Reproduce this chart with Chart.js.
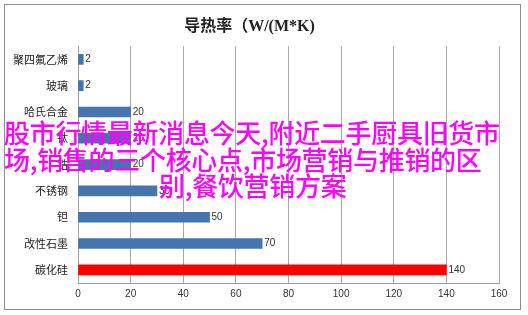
<!DOCTYPE html>
<html lang="zh">
<head>
    <meta charset="UTF-8">
    <title>导热率</title>
    <script src="https://cdn.jsdelivr.net/npm/chart.js"></script>
    <style>
        html, body {
            margin: 0;
            padding: 0;
            background: #fff;
        }

        .wrap {
            position: relative;
            width: 528px;
            height: 315px;
            overflow: hidden;
        }

        .frame {
            position: absolute;
            left: 4px;
            top: 4px;
            width: 515px;
            height: 304px;
            border: 1px solid #8e8e8e;
        }

        canvas {
            position: absolute;
            left: 0;
            top: 0;
        }

        .overlay {
            position: absolute;
            color: #ff00ff;
            font-family: "Noto Sans CJK SC", sans-serif;
            font-weight: 500;
            font-size: 26px;
            line-height: 26px;
            white-space: nowrap;
            letter-spacing: -0.3px;
        }
    </style>
</head>
<body>
    <div class="wrap">
        <div class="frame"></div>
        <canvas id="conductivity" width="528" height="315"></canvas>
        <div class="overlay" style="left:4px; top:119px;">股市行情最新消息今天,附近二手厨具旧货市</div>
        <div class="overlay" style="left:4px; top:146px;">场,销售的三个核心点,市场营销与推销的区</div>
        <div class="overlay" style="left:159px; top:172px;">别,餐饮营销方案</div>
    </div>

    <script>
        // materials and thermal conductivity, W/(m*K)
        const categories = ['聚四氟乙烯', '玻璃', '哈氏合金', '钛', '锆', '不锈钢', '钽', '改性石墨', '碳化硅'];
        const values = [2, 2, 20, 20, 20, 30, 50, 70, 140];
        const highlight = '碳化硅';

        // x axis range
        const xMin = 0;
        const xMax = 160;
        const xStep = 20;

        const cjk = '"Noto Sans CJK SC", sans-serif';

        // value text at the end of each bar
        const barValues = {
            id: 'barValues',
            afterDatasetsDraw(chart) {
                const c = chart.ctx;
                const meta = chart.getDatasetMeta(0);
                c.save();
                c.font = '10px "Liberation Sans", sans-serif';
                c.fillStyle = '#333';
                c.textAlign = 'left';
                c.textBaseline = 'middle';
                meta.data.forEach((bar, i) => {
                    c.fillText(String(values[i]), bar.x + 2, bar.y);
                });
                c.restore();
            }
        };

        new Chart(document.getElementById('conductivity').getContext('2d'), {
            type: 'bar',
            data: {
                labels: categories,
                datasets: [{
                    data: values,
                    backgroundColor: ctx => categories[ctx.dataIndex] === highlight ? '#ff0000' : '#4674ad',
                    barThickness: 10
                }]
            },
            plugins: [barValues],
            options: {
                indexAxis: 'y',
                responsive: false,
                animation: false,
                layout: {
                    padding: { left: 0, right: 29, top: 0, bottom: 0 }
                },
                plugins: {
                    legend: { display: false },
                    tooltip: { enabled: false },
                    title: {
                        display: true,
                        text: '导热率（W/(M*K)',
                        color: '#222',
                        font: { family: '"Liberation Serif", "Noto Sans CJK SC", serif', size: 16, weight: 'bold', lineHeight: 1.2 },
                        padding: { top: 17, bottom: 10 }
                    }
                },
                scales: {
                    x: {
                        min: xMin,
                        max: xMax,
                        afterFit: scale => { scale.height = 32; },
                        ticks: {
                            stepSize: xStep,
                            padding: 5,
                            color: '#333',
                            font: { family: '"Liberation Sans", sans-serif', size: 10 }
                        },
                        grid: {
                            color: '#a8a8a8',
                            lineWidth: 1,
                            drawTicks: false
                        },
                        border: { color: '#a0a0a0' }
                    },
                    y: {
                        afterFit: scale => { scale.width = 78; },
                        ticks: {
                            padding: 10,
                            color: '#222',
                            font: { family: cjk, size: 11 }
                        },
                        grid: { display: false, drawTicks: false },
                        border: { display: true, color: '#a0a0a0' }
                    }
                }
            }
        });
    </script>
</body>
</html>
